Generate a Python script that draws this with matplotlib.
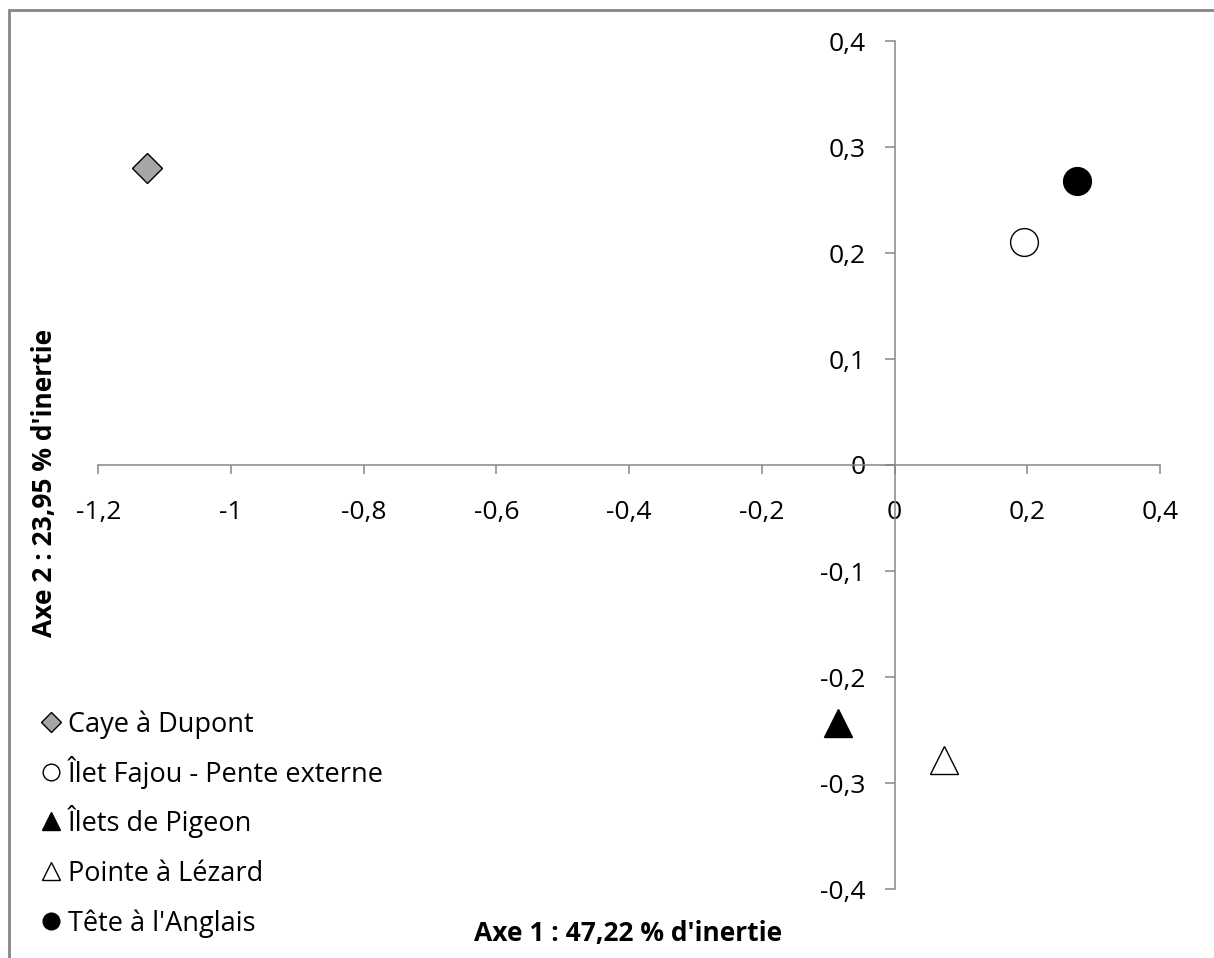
import matplotlib.pyplot as plt
import matplotlib.patches as patches
from matplotlib.lines import Line2D
from matplotlib.ticker import FuncFormatter

# Site coordinates on the first two factorial axes
sites = ["Caye à Dupont", "Îlet Fajou - Pente externe", "Îlets de Pigeon",
         "Pointe à Lézard", "Tête à l'Anglais"]
axe1 = [-1.127, 0.195, -0.085, 0.075, 0.275]
axe2 = [0.280, 0.210, -0.243, -0.278, 0.268]

xticks = [-1.2, -1.0, -0.8, -0.6, -0.4, -0.2, 0.0, 0.2, 0.4]
yticks = [-0.4, -0.3, -0.2, -0.1, 0.0, 0.1, 0.2, 0.3, 0.4]

# marker, face colour, plot size, legend size per site
styles = [("D", "#a6a6a6", 15, 10), ("o", "white", 20, 12), ("^", "black", 20, 13),
          ("^", "white", 20, 13), ("o", "black", 20, 12)]

plt.rcParams["font.family"] = ["Open Sans", "DejaVu Sans"]
grey = "#868686"
W, H = 1214, 958

fig = plt.figure(figsize=(W / 100, H / 100), dpi=100)
ax = fig.add_axes([98.3 / W, 1 - 889 / H, 1061.7 / W, 848 / H])

for name, x, y, (m, fc, ms, _) in zip(sites, axe1, axe2, styles):
    ax.plot([x], [y], linestyle="none", marker=m, markersize=ms,
            markerfacecolor=fc, markeredgecolor="black", markeredgewidth=1.0,
            label=name, clip_on=False)

ax.set_xlim(-1.2, 0.4)
ax.set_ylim(-0.4, 0.4)
ax.set_xticks(xticks)
ax.set_yticks(yticks)

fmt = FuncFormatter(lambda v, p: ("%g" % round(v, 2)).replace(".", ","))
ax.xaxis.set_major_formatter(fmt)
ax.yaxis.set_major_formatter(fmt)

ax.spines["left"].set_position(("data", 0))
ax.spines["bottom"].set_position(("data", 0))
ax.spines["right"].set_visible(False)
ax.spines["top"].set_visible(False)
for s in ("left", "bottom"):
    ax.spines[s].set_color(grey)
    ax.spines[s].set_linewidth(1.1)

ax.tick_params(axis="x", direction="out", length=6.5, width=1.1, color=grey,
               labelsize=19, pad=19)
ax.tick_params(axis="y", direction="out", length=7, width=1.1, color=grey,
               labelsize=19, pad=14)

# Axis titles
fig.text(628 / W, 1 - 933 / H, "Axe 1 : 47,22 % d'inertie", fontsize=19,
         fontweight="bold", ha="center", va="center")
fig.text(45 / W, 1 - 483 / H, "Axe 2 : 23,95 % d'inertie", fontsize=19,
         fontweight="bold", ha="center", va="center", rotation=90)

# Legend, drawn row by row so the rows are evenly spaced
for i, (name, (m, fc, _, lms)) in enumerate(zip(sites, styles)):
    base = 732 + 49.7 * i
    fig.add_artist(Line2D([51 / W], [1 - (base - 10) / H], transform=fig.transFigure,
                          linestyle="none", marker=m, markersize=lms,
                          markerfacecolor=fc, markeredgecolor="black",
                          markeredgewidth=1.0))
    fig.text(68 / W, 1 - base / H, name, fontsize=19.5, ha="left", va="baseline")

# Chart area border (only top and left edges are inside the image)
fig.patches.append(patches.Rectangle((8.5 / W, -0.1), 1.2, 1 - 9.5 / H + 0.1,
                                     transform=fig.transFigure, fill=False,
                                     edgecolor=grey, linewidth=2))

fig.savefig("out.png", dpi=100)
